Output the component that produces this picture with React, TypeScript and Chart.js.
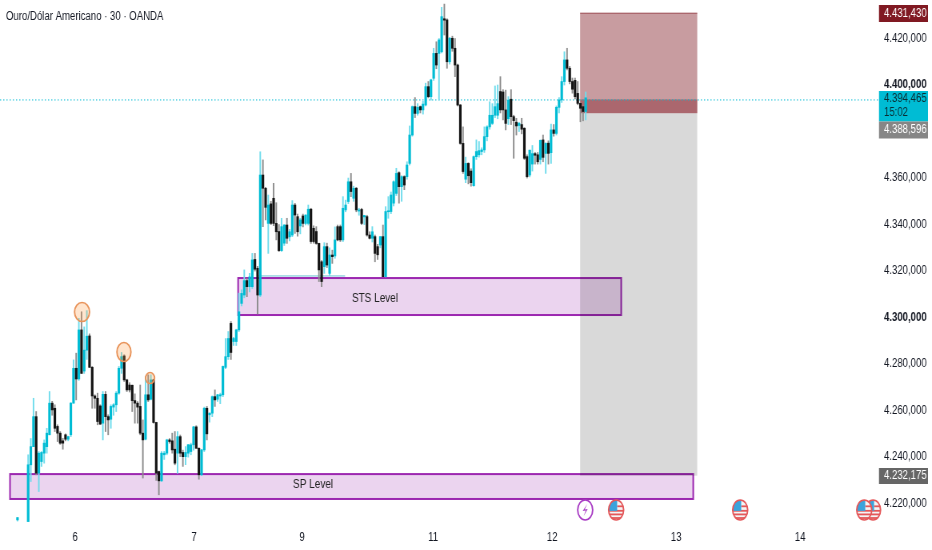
import React, { useEffect, useRef } from "react";
import { Chart, registerables } from "chart.js";

Chart.register(...registerables);

const FONT = '"Liberation Sans", Arial, sans-serif';
const SQUEEZE = 0.8; // the whole reference picture is horizontally condensed
const px = (v: number) => v / SQUEEZE;
const title = "Ouro/Dólar Americano · 30 · OANDA";

// [open, high, low, close]
const barsStray: number[][] = [[4213, 4214, 4212.5, 4214]];
const firstBarIndex = 4;
const barsA: number[][] = [
  [4212.3,4241,4212.3,4236.7],[4236.7,4248,4229.5,4244.5],[4244.5,4265.3,4244.5,4257.4],[4257.4,4259.6,4232.4,4233.1],
  [4233.1,4242.4,4225.2,4241.7],[4238.1,4242.4,4236,4242],[4241.7,4247.4,4237.4,4246],[4244.5,4252.4,4241.7,4250.3],
  [4249.6,4268.2,4249.6,4263.2],[4263.2,4264,4258,4260.3],[4261,4262.5,4251,4252.4],[4253.2,4253.9,4246.7,4250.3],
  [4250.3,4251,4245.5,4246],[4247,4248.1,4243.4,4246],[4249.6,4250,4247,4247.7],[4247.7,4249,4247,4248.8],
  [4249.6,4263.5,4248.8,4263.2],[4263.2,4281.8,4263.2,4278.2],[4278.2,4284.7,4264.6,4273.6],[4273.6,4299.7,4273,4294.7],
  [4294.7,4302.5,4276,4276],[4277,4296,4276,4286],[4286,4303,4282,4292],[4292.1,4293,4278.6,4278.6],
  [4278.6,4279,4261,4266.3],[4266.3,4266.8,4261,4265.3],[4265.3,4267.5,4253.9,4255.3],[4262,4262.5,4254,4254.2],
  [4254.6,4268.2,4247.4,4267],[4267,4268.2,4251,4257.4],[4257.4,4258.2,4249.6,4256],[4256.3,4262.5,4252.4,4261.8],
  [4261.5,4263,4258,4262.5],[4262.5,4268.2,4259.6,4267.5],[4267.5,4279,4267,4278.2],[4278.2,4285,4276,4283.2],
  [4283.5,4284,4272.5,4273.2],[4273.2,4273.5,4268.2,4268.9],[4271,4272,4268,4268.9],[4270.9,4271,4259.6,4264.3],
  [4264.3,4267.2,4254.6,4263.2],[4263.2,4263.9,4254.6,4261.5],[4261.8,4271,4249.6,4250.3],[4250.3,4256,4231,4247.4],
  [4247.7,4274.6,4247.4,4266.8],[4266.8,4275.4,4263.9,4264.6],[4264.9,4275.4,4264.6,4273.2],[4273.2,4273.5,4254.6,4254.9],
  [4254.9,4255,4230,4233.1],[4233.8,4234,4223.8,4229.8],[4229.8,4242.4,4229.5,4241.7],[4241,4242.5,4239,4241.7],
  [4241.7,4247.7,4241,4247.4],[4247.4,4248,4246,4246.7],[4247,4250.3,4241.7,4243.1],[4243.4,4251,4236.7,4237.4],
  [4241.7,4251,4233.1,4248.8],[4248.8,4249.5,4240.2,4241.7],[4242,4243,4236,4240.2],[4240.2,4244.5,4236.7,4242],
  [4241.7,4245.5,4240,4245.3],[4242.4,4246,4241,4245.3],[4245.3,4253.2,4243,4253],[4253,4253.5,4243.8,4243.8],
  [4243.8,4244,4230.5,4232.4],[4232.4,4243.4,4232,4243.1],[4243.1,4261.5,4242.4,4261],[4261,4261.8,4247.4,4250],
  [4258.2,4259,4255,4258.9],[4258.9,4266.3,4257.4,4266],[4266,4268.9,4261.8,4264.6],[4264.9,4267,4264,4266.8],
  [4266.3,4267.5,4263,4266.8],[4266.8,4279.2,4266,4279],[4278.6,4291,4278,4283.2],[4283.2,4294,4282,4291],
  [4297.5,4298.3,4282,4285],[4289.7,4291.5,4288,4291],[4289.7,4295,4288,4294.7],[4294.7,4310.5,4294,4302.5],
];
const barsB: number[][] = [
  [4306.1,4311.9,4305,4310.4],[4309.7,4320.5,4308.5,4315.9],[4315.9,4316.8,4309,4313.3],[4313.3,4319,4311,4317.5],
  [4313.3,4327.6,4312.5,4324.8],[4325,4327.6,4320,4320.8],[4321.2,4322,4301.6,4309.7],[4309.7,4371.3,4309,4361.3],
  [4361.3,4367.8,4339.1,4355.6],[4355.6,4356,4342,4347.4],[4340.5,4352.7,4327.6,4348.4],[4348.9,4350,4340,4340.5],
  [4351.3,4357.7,4339.5,4340.5],[4340.5,4349.4,4333.4,4336.9],[4337,4340,4328.4,4328.8],[4328.8,4342.7,4328.5,4339.1],
  [4332,4340,4331,4339.8],[4339.8,4342.7,4331.9,4334.1],[4334.7,4338,4333,4336.9],[4335.5,4350.3,4334.8,4348.4],
  [4348.4,4349.1,4336.2,4344.1],[4343.4,4344.5,4335,4336.9],[4339.4,4342.7,4336,4342],[4343.7,4344.5,4339,4340.5],
  [4340.5,4344.2,4339.8,4344.1],[4340.5,4348.4,4339.8,4346.6],[4346.6,4347,4331.9,4332.7],[4338.4,4339.5,4332,4332.7],
  [4337,4339.1,4331.5,4331.9],[4331.9,4332,4315.5,4320.5],[4324,4324.5,4313.3,4315.5],[4321.9,4332.2,4319,4330.5],
  [4330.5,4332,4321.5,4322.6],[4319,4330,4318,4326.9],[4326.9,4329,4323.3,4326.2],[4326.5,4339,4325.5,4333.4],
  [4339.1,4339.8,4333,4333.4],[4339.1,4339.8,4332.7,4333.4],[4333.4,4352,4332.7,4347],[4346.3,4350.5,4345.5,4348.4],
  [4349.9,4360,4349,4358.4],[4358.4,4362,4352,4354.2],[4351.3,4356.5,4350,4355.6],[4355.6,4356,4345.5,4346.3],
  [4345.8,4347,4344,4346.3],[4346.5,4347,4340,4340.5],[4343.3,4344,4340,4343.9],[4343.4,4344,4335,4335.5],
  [4335.5,4336.9,4333.8,4334.1],[4334.1,4339.1,4332.5,4336.9],[4334.8,4335.5,4324,4327.6],[4330.5,4331.5,4325,4327],
  [4331.2,4334.9,4330,4334.8],[4334.8,4339.8,4317.6,4317.6],[4317.6,4347.7,4317.5,4345.6],[4345.5,4352,4342.7,4345.9],
  [4345.6,4354,4344.7,4352.7],[4349.2,4358.8,4348,4358.4],[4353.4,4364.2,4352.5,4362],[4362.3,4362.7,4349.2,4356.3],
  [4356.3,4361,4350,4360.6],[4360.6,4361,4355,4357],[4360.6,4367,4359.5,4365.6],
];
const barsC: number[][] = [
  [4366.3,4382.4,4365.6,4378.5],[4378.5,4391,4378,4390.7],[4390.7,4394.6,4386,4387.8],[4387.8,4392,4387,4390.4],
  [4390.7,4391,4388,4389.3],[4389.3,4393,4387.5,4391.8],[4391.4,4400.8,4391,4399.3],[4399.3,4401.5,4394.5,4395],
  [4395,4402.5,4393.5,4402.2],[4402.9,4415.8,4402,4413.6],[4413.6,4418.6,4407,4408.6],[4413.6,4420,4393.6,4419.4],
  [4414.3,4433.4,4413.8,4429.4],[4428.5,4434.8,4421.5,4427.9],[4428,4428.5,4407.2,4410],[4410,4420.5,4409,4420.1],
  [4420.1,4421,4414.5,4415.8],[4415.8,4420,4403.6,4408.6],[4408.6,4409,4391,4391.4],[4391.4,4391.7,4374.5,4374.9],
  [4374.9,4382,4362,4362.8],[4359.5,4369,4358,4366.3],[4366.3,4366.6,4357.5,4361],[4363,4364,4356.5,4358],
  [4356.7,4369.5,4356.5,4369.2],[4369.2,4376.4,4368,4371.4],[4370,4375.7,4369,4371.8],[4371.4,4373,4370,4372.1],
  [4372.1,4382,4371,4377.8],[4377.8,4382.5,4376,4382],[4382,4392.8,4381,4387],[4383.5,4392,4383,4387],
  [4387,4399.6,4386,4390.7],[4387,4400,4385.5,4392],[4397.2,4403.6,4388,4389.3],[4397,4398,4385,4389.3],
  [4389.3,4397.8,4380.7,4383.5],[4385.5,4395,4383,4393.5],[4393.9,4398,4383,4386.4],[4386.4,4387,4368.5,4384.7],
  [4384,4385.7,4378.5,4382.4],[4382.6,4384,4380,4383.5],[4383,4385.7,4379,4381],[4381.4,4381.7,4368,4368.5],
  [4369.2,4370,4360,4360.6],[4361.3,4372,4360.5,4372],[4366,4374,4363,4370.5],[4370.5,4371,4366,4369.8],
  [4370,4371,4366,4367],[4368,4376.4,4366,4376.2],[4376.4,4378.5,4367,4368.9],[4370.6,4375.2,4362,4374.9],
  [4375,4376,4366,4370.6],[4370.9,4383.2,4366.3,4380.7],[4380.7,4383,4378,4379.2],[4379.2,4391,4378.5,4390.4],
  [4390.4,4394.6,4388,4393.6],[4393.6,4403.6,4392.5,4401.5],[4401.5,4414.3,4400,4410.8],[4410.8,4415.8,4406.5,4407.2],
  [4407.2,4408,4400.5,4401.5],[4401.5,4403,4396.5,4398.2],[4402,4403,4394,4395],[4396.4,4401.5,4391.5,4392.1],
  [4392.1,4392.3,4384.2,4390],[4390.7,4391,4384.6,4388.6],[4388.6,4397,4385,4394.5],
];

const dayLabels = ["6", "7", "9", "11", "12", "13", "14"];
const dayBars = [21.6, 66.2, 106.7, 155.8, 200.4, 246.9, 293.4];
const priceTicks = [4220, 4240, 4260, 4280, 4300, 4320, 4340, 4360, 4400, 4420];
const strongTicks = [4300, 4400];

const zoneNames = ["STS Level", "SP Level"];
const zoneBarFrom = [82.7, -2.8];
const zoneBarTo = [226.3, 253.3];
const zoneHigh = [4317, 4232.7];
const zoneLow = [4301.1, 4222];
const zoneLabelBar = [134, 110.8];
const zoneLabelPrice = [4308, 4228];

const positionBars = [210.9, 254.8];
const positionTarget = 4430.9;
const positionEntry = 4387.9;
const positionStop = 4232;
const lastPriceLevel = 4393.8;

const swingBars = [24.2, 39.9, 49.7];
const swingPrices = [4302.4, 4285.2, 4274];
const swingRx = [7.5, 7, 4.5];
const swingRy = [9.5, 9.5, 5.5];

const eventBars = [212.8, 224.4, 270.9, 320.7, 317.4];
const eventKinds = ["bolt", "us", "us", "us", "us"];
const eventPrice = 4217.3;

const touchLineBars = [90.2, 122.8];
const touchLinePrice = 4317.9;

const priceBoxes = [
  { text: "4.431,430", y: 5, h: 17, fill: "#801922", color: "#ffffff" },
  { text: "4.388,596", y: 121.5, h: 17, fill: "#868686", color: "#ffffff" },
  { text: "4.232,175", y: 468, h: 16, fill: "#666666", color: "#ffffff" },
];
const lastBox = { price: "4.394,465", time: "15:02" };

const fmt = (v: number) => {
  const s = v.toFixed(3);
  return s[0] + "." + s.slice(1, 4) + "," + s.slice(5);
};

const overlayPlugin = {
  id: "overlay",
  beforeDatasetsDraw(chart: any) {
    const { ctx, scales } = chart;
    const x = scales.x, y = scales.y;
    ctx.save();
    zoneNames.forEach((_, i) => {
      const l = x.getPixelForValue(zoneBarFrom[i]);
      const r = x.getPixelForValue(zoneBarTo[i]);
      const t = y.getPixelForValue(zoneHigh[i]);
      const b = y.getPixelForValue(zoneLow[i]);
      ctx.fillStyle = "#ebd4ef";
      ctx.fillRect(l, t, r - l, b - t);
      ctx.strokeStyle = "#9c27b0";
      ctx.lineWidth = 2;
      ctx.strokeRect(l, t, r - l, b - t);
    });
    const pl = x.getPixelForValue(positionBars[0]);
    const pr = x.getPixelForValue(positionBars[1]);
    const yT = y.getPixelForValue(positionTarget);
    const yE = y.getPixelForValue(positionEntry);
    const yS = y.getPixelForValue(positionStop);
    const yL = y.getPixelForValue(lastPriceLevel);
    ctx.fillStyle = "rgba(128,25,34,0.43)";
    ctx.fillRect(pl, yT, pr - pl, yE - yT);
    ctx.fillStyle = "rgba(128,25,34,0.4)";
    ctx.fillRect(pl, yL, pr - pl, yE - yL);
    ctx.fillStyle = "rgba(0,0,0,0.15)";
    ctx.fillRect(pl, yE, pr - pl, yS - yE);
    ctx.strokeStyle = "rgba(128,25,34,0.7)";
    ctx.lineWidth = 1;
    ctx.beginPath();
    ctx.moveTo(pl, yT);
    ctx.lineTo(pr, yT);
    ctx.stroke();
    ctx.strokeStyle = "rgba(0,150,180,0.6)";
    ctx.beginPath();
    ctx.moveTo(x.getPixelForValue(touchLineBars[0]), y.getPixelForValue(touchLinePrice));
    ctx.lineTo(x.getPixelForValue(touchLineBars[1]), y.getPixelForValue(touchLinePrice));
    ctx.stroke();
    ctx.strokeStyle = "#00bcd4";
    ctx.setLineDash([1.5, 2.5]);
    ctx.beginPath();
    ctx.moveTo(0, yL + 0.5);
    ctx.lineTo(px(880), yL + 0.5);
    ctx.stroke();
    ctx.setLineDash([]);
    ctx.fillStyle = "#222";
    ctx.font = `12.5px ${FONT}`;
    ctx.textAlign = "center";
    ctx.textBaseline = "middle";
    zoneNames.forEach((n, i) => {
      ctx.fillText(n, x.getPixelForValue(zoneLabelBar[i]), y.getPixelForValue(zoneLabelPrice[i]));
    });
    ctx.restore();
  },
  afterDatasetsDraw(chart: any) {
    const { ctx, scales } = chart;
    const x = scales.x, y = scales.y;
    swingBars.forEach((b, i) => {
      ctx.save();
      ctx.translate(x.getPixelForValue(b), y.getPixelForValue(swingPrices[i]));
      ctx.scale(1 / SQUEEZE, 1);
      ctx.beginPath();
      ctx.ellipse(0, 0, swingRx[i], swingRy[i], 0, 0, Math.PI * 2);
      ctx.fillStyle = "rgba(255,152,60,0.25)";
      ctx.fill();
      ctx.strokeStyle = "#e8935a";
      ctx.lineWidth = 1.5;
      ctx.stroke();
      ctx.restore();
    });
    eventBars.forEach((b, i) => {
      ctx.save();
      ctx.translate(x.getPixelForValue(b), y.getPixelForValue(eventPrice));
      ctx.scale(1 / SQUEEZE, 1);
      const rx = 7.5, ry = 10;
      if (eventKinds[i] === "bolt") {
        ctx.beginPath();
        ctx.ellipse(0, 0, rx, ry, 0, 0, Math.PI * 2);
        ctx.fillStyle = "#fff";
        ctx.fill();
        ctx.strokeStyle = "#a83cc4";
        ctx.lineWidth = 1.5;
        ctx.stroke();
        ctx.beginPath();
        ctx.moveTo(2, -6);
        ctx.lineTo(-2.5, 1);
        ctx.lineTo(0.5, 0.5);
        ctx.lineTo(-1.5, 6);
        ctx.lineTo(2.5, -1);
        ctx.lineTo(-0.5, -0.5);
        ctx.closePath();
        ctx.fillStyle = "#a83cc4";
        ctx.fill();
      } else {
        ctx.save();
        ctx.beginPath();
        ctx.ellipse(0, 0, rx, ry, 0, 0, Math.PI * 2);
        ctx.fillStyle = "#f4f4f4";
        ctx.fill();
        ctx.clip();
        ctx.fillStyle = "#e4585a";
        for (let k = 0; k < 3; k++) ctx.fillRect(-rx, k * 3.6, rx * 2, 1.8);
        ctx.fillRect(1, -4.5, rx, 1.8);
        ctx.fillStyle = "#3aa3dc";
        ctx.fillRect(-rx, -ry, rx + 1, ry + 1);
        ctx.restore();
        ctx.beginPath();
        ctx.ellipse(0, 0, rx, ry, 0, 0, Math.PI * 2);
        ctx.strokeStyle = "#e4585a";
        ctx.lineWidth = 1.5;
        ctx.stroke();
      }
      ctx.restore();
    });
  },
  afterDraw(chart: any) {
    const { ctx } = chart;
    ctx.save();
    ctx.textBaseline = "middle";
    ctx.textAlign = "left";
    ctx.font = `12px ${FONT}`;
    ctx.fillStyle = "#131722";
    ctx.fillText(title, px(6), 17);
    const bx = px(879), bw = px(49), tx = px(884);
    ctx.fillStyle = "#00bcd4";
    ctx.fillRect(bx, 91, bw, 30.5);
    ctx.fillStyle = "#0a2c33";
    ctx.fillText(lastBox.price, tx, 98.5);
    ctx.fillText(lastBox.time, tx, 113);
    priceBoxes.forEach((b) => {
      ctx.fillStyle = b.fill;
      ctx.fillRect(bx, b.y, bw, b.h);
      ctx.fillStyle = b.color;
      ctx.fillText(b.text, tx, b.y + b.h / 2);
    });
    ctx.restore();
  },
};

export default function App() {
  const ref = useRef<HTMLCanvasElement>(null);
  useEffect(() => {
    if (!ref.current) return;
    const stray = barsStray.map((r, i) => ({ r, i }));
    const main = [...barsA, ...barsB, ...barsC].map((r, i) => ({ r, i: i + firstBarIndex }));
    const all = [...stray, ...main];
    const chart = new Chart(ref.current, {
      type: "bar",
      data: {
        datasets: [
          {
            label: "wick",
            order: 2,
            grouped: false,
            barThickness: px(1),
            data: all.map(({ r, i }) => ({ x: i, y: [r[2], r[1]] })),
            backgroundColor: all.map(({ r }) => (r[3] >= r[0] ? "#6fdcec" : "#8c8c8c")),
          },
          {
            label: "body",
            order: 1,
            grouped: false,
            barThickness: px(2),
            minBarLength: 1,
            data: all.map(({ r, i }) => ({ x: i, y: [r[0], r[3]] })),
            backgroundColor: all.map(({ r }) => (r[3] >= r[0] ? "#00bcd4" : "#131313")),
          },
        ] as any,
      },
      options: {
        responsive: false,
        animation: false,
        devicePixelRatio: 1,
        layout: { padding: 0 },
        plugins: { legend: { display: false }, tooltip: { enabled: false } },
        scales: {
          x: {
            type: "linear",
            min: -6.56,
            max: 321.5,
            offset: false,
            grid: { display: false, drawTicks: false },
            border: { display: false },
            afterBuildTicks: (s: any) => {
              s.ticks = dayBars.map((value) => ({ value }));
            },
            afterFit: (s: any) => {
              s.height = 27;
              s.paddingLeft = 0;
              s.paddingRight = 0;
            },
            ticks: {
              autoSkip: false,
              maxRotation: 0,
              padding: 7,
              color: "#131722",
              font: { family: FONT, size: 12 },
              callback: (v: any) => dayLabels[dayBars.indexOf(Number(v))] ?? "",
            },
          },
          y: {
            position: "right",
            min: 4211.67,
            max: 4436.56,
            grid: { display: false, drawTicks: false },
            border: { display: false },
            afterBuildTicks: (s: any) => {
              s.ticks = priceTicks.map((value) => ({ value }));
            },
            afterFit: (s: any) => {
              s.width = 71;
              s.paddingTop = 0;
              s.paddingBottom = 0;
            },
            ticks: {
              autoSkip: false,
              padding: 11,
              color: "#131722",
              font: (c: any) => ({
                family: FONT,
                size: 12,
                weight: strongTicks.includes(c.tick?.value) ? "bold" : "normal",
              }),
              callback: (v: any) => fmt(Number(v)),
            },
          },
        },
      } as any,
      plugins: [overlayPlugin],
    });
    return () => chart.destroy();
  }, []);
  return (
    <div style={{ position: "fixed", left: 0, top: 0, width: 932, height: 550, background: "#fff", overflow: "hidden" }}>
      <canvas
        ref={ref}
        width={Math.round(932 / SQUEEZE)}
        height={550}
        style={{ display: "block", transform: `scaleX(${SQUEEZE})`, transformOrigin: "0 0" }}
      />
    </div>
  );
}
